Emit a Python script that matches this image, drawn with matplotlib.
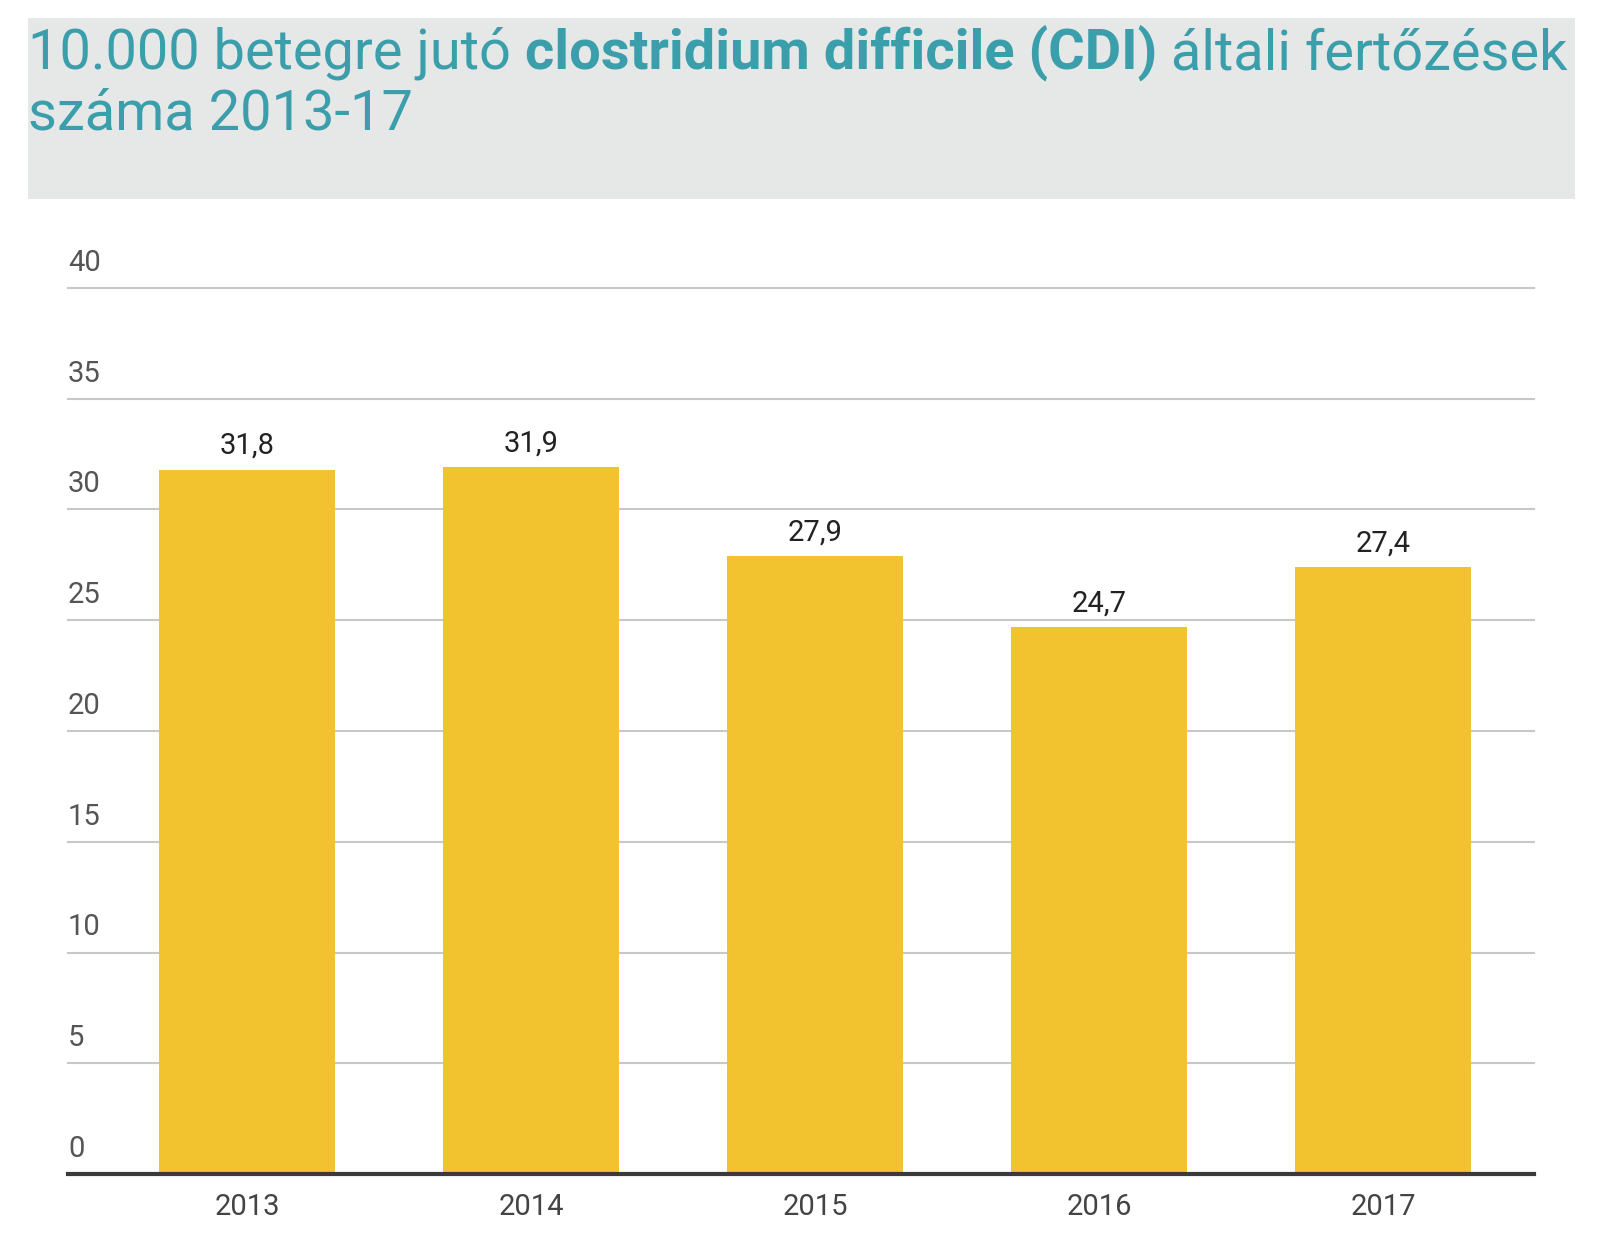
import matplotlib
matplotlib.use("Agg")
import matplotlib.pyplot as plt
from matplotlib.patches import Rectangle

years = ["2013", "2014", "2015", "2016", "2017"]
cases = [31.8, 31.9, 27.9, 24.7, 27.4]
y_ticks = [0, 5, 10, 15, 20, 25, 30, 35, 40]

title_parts = [
    ("10.000 betegre jutó ", "normal"),
    ("clostridium difficile (CDI)", "bold"),
    (" általi fertőzések", "normal"),
]
title_line2 = "száma 2013-17"

W, H = 1600, 1243
plt.rcParams["font.family"] = ["Roboto", "Open Sans", "DejaVu Sans"]

fig = plt.figure(figsize=(W / 100, H / 100), dpi=100)
fig.patch.set_facecolor("white")

# grey header box
fig.patches.append(Rectangle((28 / W, 1 - 199 / H), (1575 - 28) / W, (199 - 18) / H,
                             transform=fig.transFigure, facecolor="#e6e7e7",
                             edgecolor="none", zorder=0))

teal = "#3a9eab"
fig.canvas.draw()
renderer = fig.canvas.get_renderer()


def draw_title(size):
    texts = []
    x = 28 / W
    for txt, weight in title_parts:
        t = fig.text(x, 1 - 69 / H, txt, fontsize=size, color=teal, fontweight=weight,
                     ha="left", va="baseline")
        texts.append(t)
        x = t.get_window_extent(renderer=renderer).x1 / W
    return texts, x * W


# fit the first title line into the header width
size = 40
texts, right = draw_title(size)
target = 1568
for t in texts:
    t.remove()
size = size * (target - 28) / (right - 28)
texts, right = draw_title(size)

fig.text(28 / W, 1 - 130 / H, title_line2, fontsize=size, color=teal,
         ha="left", va="baseline")

ax = fig.add_axes([68 / W, 69 / H, (1534 - 68) / W, (1174 - 288) / H])
pos = range(len(years))
ax.bar(pos, cases, width=0.62, color="#f3c22f", zorder=2)
ax.set_xlim(-0.63, 4.53)
ax.set_ylim(0, 40)

for v in y_ticks[1:]:
    ax.axhline(v, color="#c8c8c8", linewidth=1.5, zorder=1, clip_on=False)
ax.axhline(0, color="#3a3a3a", linewidth=3, zorder=3, clip_on=False)

for v in y_ticks:
    ax.annotate(str(v), xy=(0, v), xycoords=("axes fraction", "data"),
                xytext=(0, 8), textcoords="offset points", ha="left", va="bottom",
                fontsize=21, color="#555555")

for i, v in enumerate(cases):
    ax.annotate(f"{v:.1f}".replace(".", ","), xy=(i, v), xytext=(0, 7),
                textcoords="offset points", ha="center", va="bottom",
                fontsize=21, color="#222222")

for i, y in enumerate(years):
    ax.annotate(y, xy=(i, 0), xytext=(0, -14), textcoords="offset points",
                ha="center", va="top", fontsize=21, color="#444444")

ax.set_xticks([])
ax.set_yticks([])
for s in ax.spines.values():
    s.set_visible(False)
ax.patch.set_alpha(0)

fig.savefig("out.png", dpi=100)
